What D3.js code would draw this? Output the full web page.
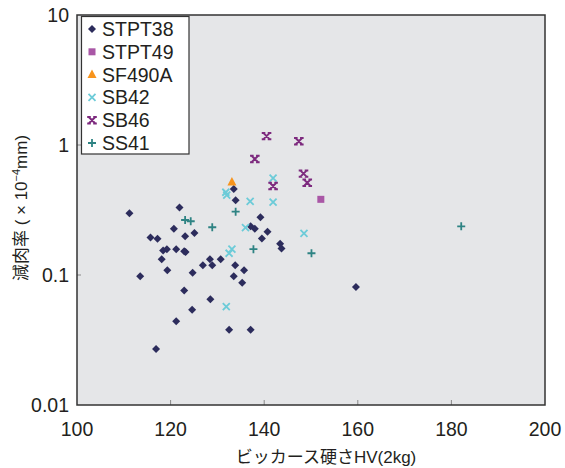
<!DOCTYPE html>
<html><head><meta charset="utf-8">
<script src="https://cdn.jsdelivr.net/npm/d3@7"></script>
<style>
body{margin:0;background:#fff}
text{font-family:"Liberation Sans",Arial,"Noto Sans CJK JP",sans-serif;fill:#231f20}
</style>
</head><body><svg id="c" width="565" height="468"></svg>
<script>
const xTicks=[100,120,140,160,180,200];
const yTicks=[0.01,0.1,1,10];
const yTickLabels=["0.01","0.1","1","10"];
const seriesNames=["STPT38","STPT49","SF490A","SB42","SB46","SS41"];

const stpt38X=[111.2,121.9,133.5,133.9,120.7,123.1,125.1,115.7,117.2,118.4,119.2,121.2,122.9,123.2,118.1,119.3,113.5,124.7,122.9,128.5,124.6,121.2,116.9,128.4,126.9,128.9,130.7,133.8,135.7,133.5,135.3,132.5,137.1,139.2,137.1,138.0,140.7,139.5,143.4,143.7,159.6];
const stpt38Y=[0.299,0.330,0.459,0.376,0.227,0.199,0.210,0.194,0.190,0.154,0.158,0.158,0.152,0.150,0.132,0.109,0.098,0.104,0.076,0.065,0.054,0.044,0.027,0.132,0.119,0.119,0.132,0.119,0.109,0.098,0.087,0.038,0.038,0.278,0.237,0.227,0.215,0.191,0.174,0.160,0.081];
const stpt49X=[152.1];
const stpt49Y=[0.382];
const sf490aX=[133.1];
const sf490aY=[0.519];
const sb42X=[131.8,132.0,141.9,137.0,141.9,148.5,136.0,133.1,132.5,131.9];
const sb42Y=[0.433,0.412,0.557,0.369,0.364,0.209,0.231,0.158,0.147,0.057];
const sb46X=[140.5,147.4,138.0,148.4,149.2,141.9];
const sb46Y=[1.17,1.07,0.780,0.602,0.513,0.484];
const ss41X=[123.1,124.3,133.9,128.9,137.7,150.1,182.1];
const ss41Y=[0.265,0.259,0.307,0.233,0.158,0.147,0.237];

const colors={STPT38:"#2c2c5c",STPT49:"#a957a6",SF490A:"#f7941d",SB42:"#6ccbd8",SB46:"#7d2a7e",SS41:"#2e8383"};

const L=77,R=545,T=15,B=405;
const svg=d3.select("#c");
const x=d3.scaleLinear().domain([100,200]).range([L,R]);
const y=d3.scaleLog().domain([0.01,10]).range([B,T]);

svg.append("rect").attr("x",L).attr("y",T).attr("width",R-L).attr("height",B-T).attr("fill","#e5e6e8");

svg.append("g").selectAll("line").data(xTicks.slice(1,-1)).join("line")
 .attr("x1",d=>x(d)).attr("x2",d=>x(d)).attr("y1",B).attr("y2",B-5)
 .attr("stroke","#888").attr("stroke-width",1);
svg.append("g").selectAll("line").data(yTicks.slice(1,-1)).join("line")
 .attr("x1",L).attr("x2",L+4).attr("y1",d=>y(d)).attr("y2",d=>y(d))
 .attr("stroke","#888").attr("stroke-width",1);

svg.append("rect").attr("x",L).attr("y",T).attr("width",R-L).attr("height",B-T)
 .attr("fill","none").attr("stroke","#333").attr("stroke-width",1.5);

svg.append("g").selectAll("text").data(xTicks).join("text")
 .attr("x",d=>x(d)).attr("y",436).attr("text-anchor","middle").attr("font-size",19.5).text(d=>d);
svg.append("g").selectAll("text").data(yTicks).join("text")
 .attr("x",69).attr("y",d=>y(d)+7).attr("text-anchor","end").attr("font-size",19.5).text((d,i)=>yTickLabels[i]);

svg.append("text").attr("x",326).attr("y",463).attr("text-anchor","middle").attr("font-size",17)
 .text("ビッカース硬さHV(2kg)");
const yl=svg.append("text").attr("transform","translate(27,208) rotate(-90)").attr("text-anchor","middle").attr("font-size",17);
yl.append("tspan").text("減肉率 ( × 10");
yl.append("tspan").attr("font-size",11).attr("dy",-7).text("−4");
yl.append("tspan").attr("dy",7).text("mm)");

function marker(g,name,cx,cy){
  const c=colors[name];
  if(name==="STPT38"){
    g.append("path").attr("d",`M${cx},${cy-4}L${cx+4},${cy}L${cx},${cy+4}L${cx-4},${cy}Z`).attr("fill",c);
  }else if(name==="STPT49"){
    g.append("rect").attr("x",cx-3.5).attr("y",cy-3.5).attr("width",7).attr("height",7).attr("fill",c);
  }else if(name==="SF490A"){
    g.append("path").attr("d",`M${cx},${cy-5}L${cx+4.5},${cy+3.5}L${cx-4.5},${cy+3.5}Z`).attr("fill",c);
  }else if(name==="SB42"){
    g.append("path").attr("d",`M${cx-3.5},${cy-3.5}L${cx+3.5},${cy+3.5}M${cx+3.5},${cy-3.5}L${cx-3.5},${cy+3.5}`).attr("stroke",c).attr("stroke-width",1.8);
  }else if(name==="SB46"){
    let d=`M${cx-3},${cy-3}L${cx+3},${cy+3}M${cx+3},${cy-3}L${cx-3},${cy+3}`;
    [[-3,-3.2],[3,-3.2],[-3,3.2],[3,3.2]].forEach(([dx,dy])=>{d+=`M${cx+dx-1.8},${cy+dy}L${cx+dx+1.8},${cy+dy}`;});
    g.append("path").attr("d",d).attr("stroke",c).attr("stroke-width",2);
  }else{
    g.append("path").attr("d",`M${cx-4},${cy}L${cx+4},${cy}M${cx},${cy-4}L${cx},${cy+4}`).attr("stroke",c).attr("stroke-width",1.8);
  }
}

const series=[
 ["STPT38",stpt38X,stpt38Y],["STPT49",stpt49X,stpt49Y],["SF490A",sf490aX,sf490aY],
 ["SB42",sb42X,sb42Y],["SB46",sb46X,sb46Y],["SS41",ss41X,ss41Y]];
const pts=svg.append("g");
series.forEach(([n,xs,ys])=>{xs.forEach((v,i)=>marker(pts,n,x(v),y(ys[i])));});

const lg=svg.append("g");
lg.append("rect").attr("x",81.5).attr("y",16.5).attr("width",107.5).attr("height",137.5)
 .attr("fill","#fff").attr("stroke","#333").attr("stroke-width",1.2);
seriesNames.forEach((n,i)=>{
  const cy=29+i*22.8;
  marker(lg,n,92,cy);
  lg.append("text").attr("x",102).attr("y",cy+7).attr("font-size",19.5).text(n);
});
</script></body></html>
